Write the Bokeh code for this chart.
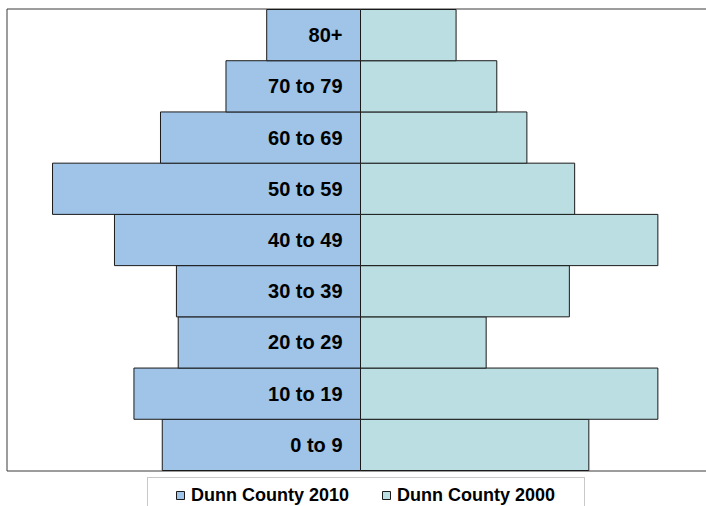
from bokeh.plotting import figure
from bokeh.models import Range1d, BoxAnnotation, Legend, LegendItem, ColumnDataSource
from bokeh.core.properties import value
from bokeh.embed import file_html
from bokeh.resources import INLINE

# Age groups, bottom to top
age_groups = ["0 to 9", "10 to 19", "20 to 29", "30 to 39", "40 to 49",
              "50 to 59", "60 to 69", "70 to 79", "80+"]
# Share of population (%) per age group
dunn_2010 = [11.2, 12.8, 10.3, 10.4, 13.9, 17.4, 11.3, 7.6, 5.3]
dunn_2000 = [12.9, 16.8, 7.1, 11.8, 16.8, 12.1, 9.4, 7.7, 5.4]

FONT = "Liberation Sans"
W, H = 706, 506
px_per_unit = 17.7           # pixels per percentage point
center_px = 360
x_start = -center_px / px_per_unit
x_end = (W - center_px) / px_per_unit
band_px = 461 / 9            # pixels per age band
y_start = -0.5 - 36 / band_px
y_end = 8.5 + 9 / band_px
half_x = 0.5 / px_per_unit
half_y = 0.5 / band_px

idx = list(range(len(age_groups)))
src = ColumnDataSource(dict(
    y=idx,
    label=age_groups,
    neg2010=[-v for v in dunn_2010],
    v2000=dunn_2000,
))

p = figure(width=W, height=H,
           x_range=Range1d(x_start, x_end), y_range=Range1d(y_start, y_end),
           output_backend="svg", toolbar_location=None,
           x_axis_location=None, y_axis_location=None,
           min_border=0, min_border_top=0, min_border_bottom=0,
           min_border_left=0, min_border_right=0,
           outline_line_color=None,
           background_fill_color="white", border_fill_color="white")
for g in p.grid:
    g.visible = False

# plot-area border (right side lies outside the visible area)
p.add_layout(BoxAnnotation(left=-20 + half_x, right=21,
                           bottom=-0.5 - half_y, top=8.5 + half_y,
                           fill_alpha=0, line_color="#3a3a3a", line_alpha=1,
                           line_width=1, level="underlay"))

r2010 = p.hbar(y="y", left="neg2010", right=0, height=1, source=src,
               fill_color="#9FC4E8", line_color="#1a1a1a", line_width=1)
r2000 = p.hbar(y="y", left=0, right="v2000", height=1, source=src,
               fill_color="#BBDEE2", line_color="#1a1a1a", line_width=1)

p.text(x=0, y="y", text="label", source=src, x_offset=-18,
       text_align="right", text_baseline="middle",
       text_font=value(FONT), text_font_style="bold",
       text_font_size="20px", text_color="black")

# Legend frame box
dummy = p.scatter(x=[], y=[], size=0, fill_alpha=0, line_alpha=0)
box = Legend(items=[LegendItem(label=value(" "), renderers=[dummy])],
             location=(147, -13), padding=0, margin=0,
             glyph_width=1, glyph_height=1, label_standoff=0,
             label_width=435, label_height=40,
             border_line_color="#C8C8C8", border_line_width=1,
             border_line_alpha=1,
             background_fill_color="white", background_fill_alpha=1)
p.add_layout(box, "center")

legend = Legend(items=[LegendItem(label="Dunn County 2010", renderers=[r2010]),
                       LegendItem(label="Dunn County 2000", renderers=[r2000])],
                location=(175, 0), orientation="horizontal",
                padding=0, margin=0, spacing=32,
                glyph_width=10, glyph_height=10, label_standoff=6,
                label_height=22,
                label_text_font=FONT, label_text_font_style="bold",
                label_text_font_size="18px", label_text_color="black",
                border_line_color=None, background_fill_alpha=0)
p.add_layout(legend, "center")

open("out.html", "w").write(file_html(p, INLINE))
